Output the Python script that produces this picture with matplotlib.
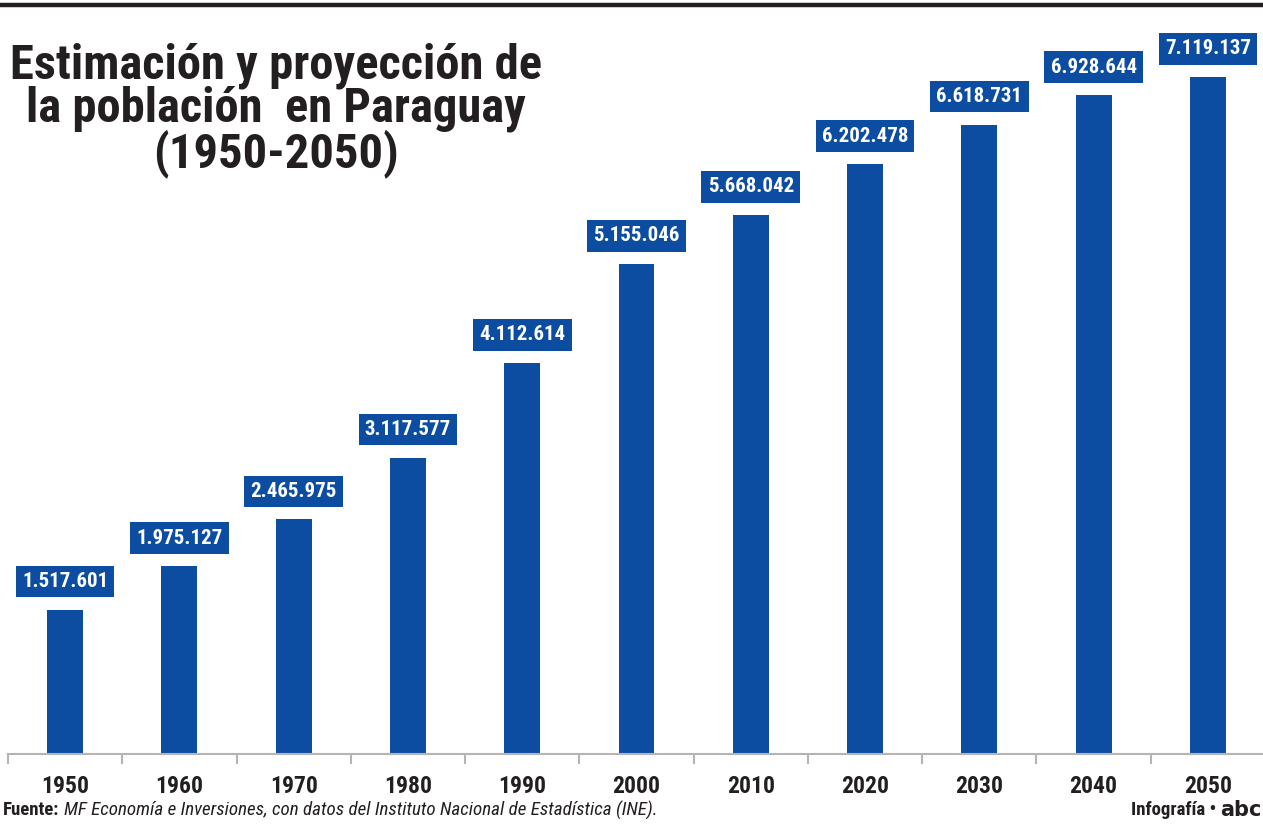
import matplotlib.pyplot as plt
from matplotlib.lines import Line2D

# Datos
years = ["1950", "1960", "1970", "1980", "1990", "2000",
         "2010", "2020", "2030", "2040", "2050"]
population = [1517601, 1975127, 2465975, 3117577, 4112614, 5155046,
              5668042, 6202478, 6618731, 6928644, 7119137]
labels = ["1.517.601", "1.975.127", "2.465.975", "3.117.577", "4.112.614",
          "5.155.046", "5.668.042", "6.202.478", "6.618.731", "6.928.644",
          "7.119.137"]

BLUE = "#0c4da2"
DARK = "#231f20"
COND = ["Roboto Condensed", "DejaVu Sans"]

W, H = 1263, 825
fig = plt.figure(figsize=(W / 100, H / 100), dpi=100)

# eje: x de 8 a 1265 px, y de 754 a 6 px
ax = fig.add_axes([8 / W, (H - 754) / H, 1257 / W, 748 / H])
ax.bar(range(len(years)), population, width=36 / 114.3, color=BLUE)
ax.set_xlim(-0.5, len(years) - 0.5)
ax.set_ylim(0, 7119137 * 748 / 677)

for i, (v, lab) in enumerate(zip(population, labels)):
    ax.annotate(lab, (i, v), xytext=(0, 28), textcoords="offset pixels",
                ha="center", va="center", color="white", fontsize=15,
                fontweight="bold", family=COND,
                bbox=dict(boxstyle="square,pad=0.3", fc=BLUE, ec="none"))

for s in ["top", "left", "right"]:
    ax.spines[s].set_visible(False)
ax.spines["bottom"].set_color("#b5b5b5")
ax.spines["bottom"].set_linewidth(1.5)
ax.set_yticks([])
ax.set_xticks([i - 0.5 for i in range(len(years) + 1)])
ax.set_xticklabels([])
ax.tick_params(axis="x", length=7, width=1.5, color="#b5b5b5")
for i, y in enumerate(years):
    ax.text(i, -0.043, y, transform=ax.get_xaxis_transform(), ha="center",
            va="center", fontsize=17, fontweight="bold", color=DARK,
            family=COND)

# linea negra superior
fig.add_artist(Line2D([0, 1], [1 - 5 / H, 1 - 5 / H], color=DARK,
                      lw=3.2, transform=fig.transFigure))

# titulo
fig.text(276 / W, 1 - 110 / H,
         "Estimación y proyección de\nla población  en Paraguay\n(1950-2050)",
         ha="center", va="center", fontsize=35, fontweight="bold",
         color=DARK, family=COND, linespacing=0.92)

# pie
r = fig.canvas.get_renderer()
t1 = fig.text(3 / W, 1 - 810 / H, "Fuente:", ha="left", va="center",
              fontsize=13.5, fontweight="bold", color=DARK, family=COND)
x1 = t1.get_window_extent(r).x1
fig.text((x1 + 5) / W, 1 - 810 / H,
         "MF Economía e Inversiones, con datos del Instituto Nacional de Estadística (INE).",
         ha="left", va="center", fontsize=13.7, style="italic",
         color=DARK, family=COND)
fig.text(1216 / W, 1 - 810 / H, "Infografía •", ha="right", va="center",
         fontsize=13.5, fontweight="bold", color=DARK, family=COND)
fig.text(1220 / W, 1 - 810 / H, "abc", ha="left", va="center",
         fontsize=15, fontweight="heavy", color=DARK, family="DejaVu Sans")

fig.savefig("out.png", dpi=100)
